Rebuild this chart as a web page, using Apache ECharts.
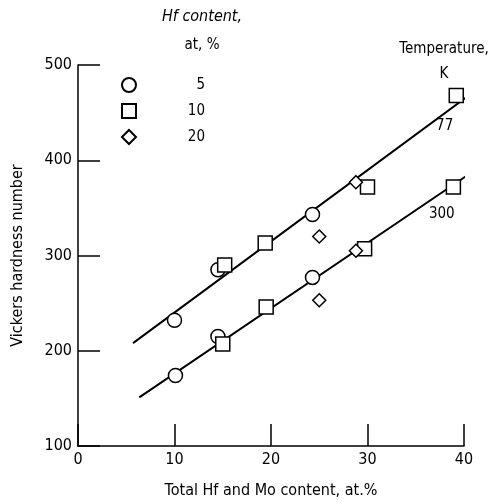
<!DOCTYPE html>
<html>
<head>
<meta charset="utf-8">
<script src="https://cdn.jsdelivr.net/npm/echarts@6/dist/echarts.min.js"></script>
<style>
  html, body { margin: 0; padding: 0; background: #fff; }
  #chart { width: 503px; height: 504px; }
</style>
</head>
<body>
<div id="chart"></div>
<script>
// hardness readings [total Hf+Mo at.%, Vickers number]
const circles77 = [[10, 232], [14.5, 285], [24.3, 343]];
const circles300 = [[10.1, 174], [14.5, 215], [24.3, 277]];
const squares77 = [[15.2, 290], [19.4, 313], [30, 372], [39.2, 468]];
const squares300 = [[15, 207], [19.5, 246], [29.7, 307], [38.9, 372]];
const diamonds77 = [[25, 320], [28.8, 377]];
const diamonds300 = [[25, 253], [28.8, 305]];

// fitted lines
const fit77 = [[5.7, 208], [40.9, 471]];
const fit300 = [[6.35, 151], [40.9, 388]];

const xTicks = [0, 10, 20, 30, 40];
const yTicks = [100, 200, 300, 400, 500];
const hfLevels = ['5', '10', '20'];

const font = '"Liberation Sans Narrow", "DejaVu Sans Condensed", "Liberation Sans", sans-serif';

const hollow = { color: '#fff', borderColor: '#000', borderWidth: 1.5, opacity: 1 };

const fitLine = (data, label, at) => ({
  type: 'line',
  data: data,
  symbol: 'none',
  silent: true,
  clip: false,
  z: 1,
  lineStyle: { color: '#000', width: 2 },
  markPoint: {
    symbolSize: 0,
    data: [{ coord: at, value: label }],
    label: { show: true, formatter: '{c}', color: '#000', fontFamily: font, fontSize: 15 }
  }
});

const chart = echarts.init(document.getElementById('chart'));
chart.setOption({
  animation: false,
  grid: { left: 78, right: 39, top: 65, bottom: 53 },
  title: {
    text: '{i|Hf content,}\n{n|at, %}',
    left: 197,
    top: -2,
    textAlign: 'center',
    textStyle: {
      fontWeight: 'normal',
      rich: {
        i: { fontFamily: font, fontSize: 16, fontStyle: 'italic', fontWeight: 'normal', color: '#000', align: 'center', lineHeight: 28 },
        n: { fontFamily: font, fontSize: 15, fontWeight: 'normal', color: '#000', align: 'center', lineHeight: 28 }
      }
    }
  },
  legend: {
    orient: 'vertical',
    left: 116,
    top: 72,
    itemWidth: 14,
    itemHeight: 14,
    itemGap: 10,
    data: hfLevels,
    formatter: name => '{v|' + name + '}',
    textStyle: {
      rich: { v: { width: 64, align: 'right', fontFamily: font, fontSize: 15, color: '#000' } }
    }
  },
  graphic: [{
    type: 'text',
    x: 444,
    y: 62,
    style: { text: 'Temperature,\nK', fill: '#000', font: '15px ' + font, align: 'center', verticalAlign: 'middle', lineHeight: 25 }
  }],
  xAxis: {
    type: 'value',
    min: xTicks[0],
    max: xTicks[xTicks.length - 1],
    interval: 10,
    name: 'Total Hf and Mo content, at.%',
    nameLocation: 'middle',
    nameGap: 37,
    nameTextStyle: { fontFamily: font, fontSize: 16, color: '#000' },
    splitLine: { show: false },
    axisLine: { lineStyle: { color: '#000', width: 1.5 } },
    axisTick: { inside: true, length: 22, lineStyle: { color: '#000', width: 1.5 } },
    axisLabel: { fontFamily: font, fontSize: 16, color: '#000', margin: 6 }
  },
  yAxis: {
    type: 'value',
    min: yTicks[0],
    max: yTicks[yTicks.length - 1],
    interval: 100,
    name: 'Vickers hardness number',
    nameLocation: 'middle',
    nameGap: 52,
    nameTextStyle: { fontFamily: font, fontSize: 16, color: '#000' },
    splitLine: { show: false },
    axisLine: { show: true, lineStyle: { color: '#000', width: 1.5 } },
    axisTick: { show: true, inside: true, length: 22, lineStyle: { color: '#000', width: 1.5 } },
    axisLabel: { fontFamily: font, fontSize: 16, color: '#000', margin: 6 }
  },
  series: [
    fitLine(fit77, '77', [38, 436]),
    fitLine(fit300, '300', [37.7, 343]),
    {
      name: '5', type: 'scatter', symbol: 'circle', symbolSize: 14, z: 3,
      itemStyle: hollow, data: circles77.concat(circles300)
    },
    {
      name: '10', type: 'scatter', symbol: 'rect', symbolSize: 14, z: 3,
      itemStyle: hollow, data: squares77.concat(squares300)
    },
    {
      name: '20', type: 'scatter', symbol: 'diamond', symbolSize: 13, z: 3,
      itemStyle: hollow, data: diamonds77.concat(diamonds300)
    }
  ]
});
</script>
</body>
</html>
